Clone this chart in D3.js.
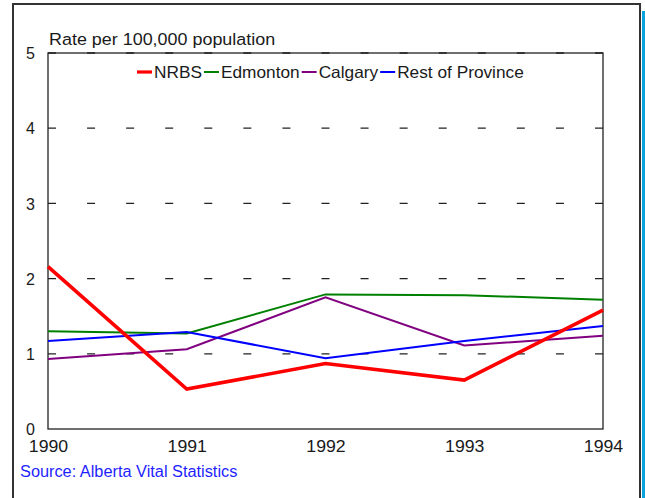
<!DOCTYPE html>
<html>
<head>
<meta charset="utf-8">
<script src="https://cdn.jsdelivr.net/npm/d3@7"></script>
<style>
  html, body { margin: 0; padding: 0; background: #fff; }
  svg { display: block; font-family: "Liberation Sans", Arial, sans-serif; }
</style>
</head>
<body>
<svg id="chart" width="645" height="498"></svg>
<script>
// Rate per 100,000 population, 1990-1994
const years = [1990, 1991, 1992, 1993, 1994];
const seriesNames = ["NRBS", "Edmonton", "Calgary", "Rest of Province"];
const nrbs      = [2.16, 0.53, 0.87, 0.65, 1.58];
const edmonton  = [1.30, 1.27, 1.79, 1.78, 1.72];
const calgary   = [0.93, 1.06, 1.75, 1.11, 1.24];
const restOfProv = [1.17, 1.29, 0.94, 1.17, 1.37];
const yTicks = [0, 1, 2, 3, 4, 5];
const yTitle = "Rate per 100,000 population";
const sourceNote = "Source: Alberta Vital Statistics";

const colors = {
  "NRBS": "#ff0000",
  "Edmonton": "#008000",
  "Calgary": "#800080",
  "Rest of Province": "#0000ff"
};
const widths = { "NRBS": 3.6, "Edmonton": 2, "Calgary": 2, "Rest of Province": 2 };

const series = [
  { name: seriesNames[0], values: nrbs },
  { name: seriesNames[1], values: edmonton },
  { name: seriesNames[2], values: calgary },
  { name: seriesNames[3], values: restOfProv }
];

const svg = d3.select("#chart");
const plot = { left: 48, right: 603, top: 53, bottom: 429 };

const x = d3.scaleLinear().domain([1990, 1994]).range([plot.left, plot.right]);
const y = d3.scaleLinear().domain([0, 5]).range([plot.bottom, plot.top]);

// horizontally widened text, matching the wide sans look
function label(g, txt, px, py, size, sx, anchor, fill) {
  const t = g.append("text")
    .attr("transform", `translate(${px},${py}) scale(${sx},1)`)
    .attr("font-size", size)
    .attr("fill", fill || "#1a1a1a")
    .attr("text-anchor", anchor || "start")
    .text(txt);
  return t;
}

// outer frame with cyan shadow
svg.append("rect").attr("x", 642).attr("y", 11).attr("width", 4).attr("height", 500)
  .attr("fill", "#0aa4dc");
svg.append("rect").attr("x", 13).attr("y", 4).attr("width", 627).attr("height", 520)
  .attr("fill", "none").attr("stroke", "#333").attr("stroke-width", 2);

// dashed gridlines
svg.append("g").selectAll("line")
  .data(yTicks.filter(d => d > 0))
  .join("line")
  .attr("x1", plot.left).attr("x2", plot.right)
  .attr("y1", d => y(d)).attr("y2", d => y(d))
  .attr("stroke", "#222").attr("stroke-width", 1.3)
  .attr("stroke-dasharray", "8,31.07");

// plot box
svg.append("rect")
  .attr("x", plot.left).attr("y", plot.top)
  .attr("width", plot.right - plot.left).attr("height", plot.bottom - plot.top)
  .attr("fill", "none").attr("stroke", "#222").attr("stroke-width", 1.3);

// y tick labels
const yAxis = d3.axisLeft(y).tickValues(yTicks).tickSize(0).tickPadding(13).tickFormat(d3.format("d"));
const yg = svg.append("g").attr("transform", `translate(${plot.left},0)`).call(yAxis);
yg.select(".domain").remove();
yg.selectAll("text").attr("font-size", 16).attr("fill", "#1a1a1a")
  .attr("font-family", "'Liberation Sans', Arial, sans-serif").attr("dy", "0.36em");

// x tick labels
const xAxis = d3.axisBottom(x).tickValues(years).tickSize(0).tickPadding(0).tickFormat(d3.format("d"));
const xg = svg.append("g").attr("transform", `translate(0,${plot.bottom})`).call(xAxis);
xg.select(".domain").remove();
xg.selectAll("text").remove();
xg.selectAll(".tick").each(function (d) {
  label(d3.select(this), String(d), 0, 23, 17, 1.04, "middle");
});

// y title
label(svg, yTitle, 49, 45, 16.3, 1.1, "start");

// series lines
const line = d3.line().x((d, i) => x(years[i])).y(d => y(d));
const drawOrder = [series[1], series[2], series[3], series[0]];
svg.append("g").selectAll("path")
  .data(drawOrder)
  .join("path")
  .attr("d", d => line(d.values))
  .attr("fill", "none")
  .attr("stroke", d => colors[d.name])
  .attr("stroke-width", d => widths[d.name])
  .attr("stroke-linejoin", "miter");

// legend
const legend = svg.append("g");
let lx = 137;
const ly = 72;
const legendScale = 1.06;
series.forEach(s => {
  legend.append("line")
    .attr("x1", lx).attr("x2", lx + 15).attr("y1", ly).attr("y2", ly)
    .attr("stroke", colors[s.name]).attr("stroke-width", s.name === "NRBS" ? 3.2 : 2);
  const t = label(legend, s.name, lx + 17, ly + 5.5, 16.3, legendScale, "start");
  const w = t.node().getComputedTextLength() * legendScale;
  lx += 17 + w + 2;
});

// source note
label(svg, sourceNote, 20, 477, 16, 1.02, "start", "#1f1fff");
</script>
</body>
</html>
